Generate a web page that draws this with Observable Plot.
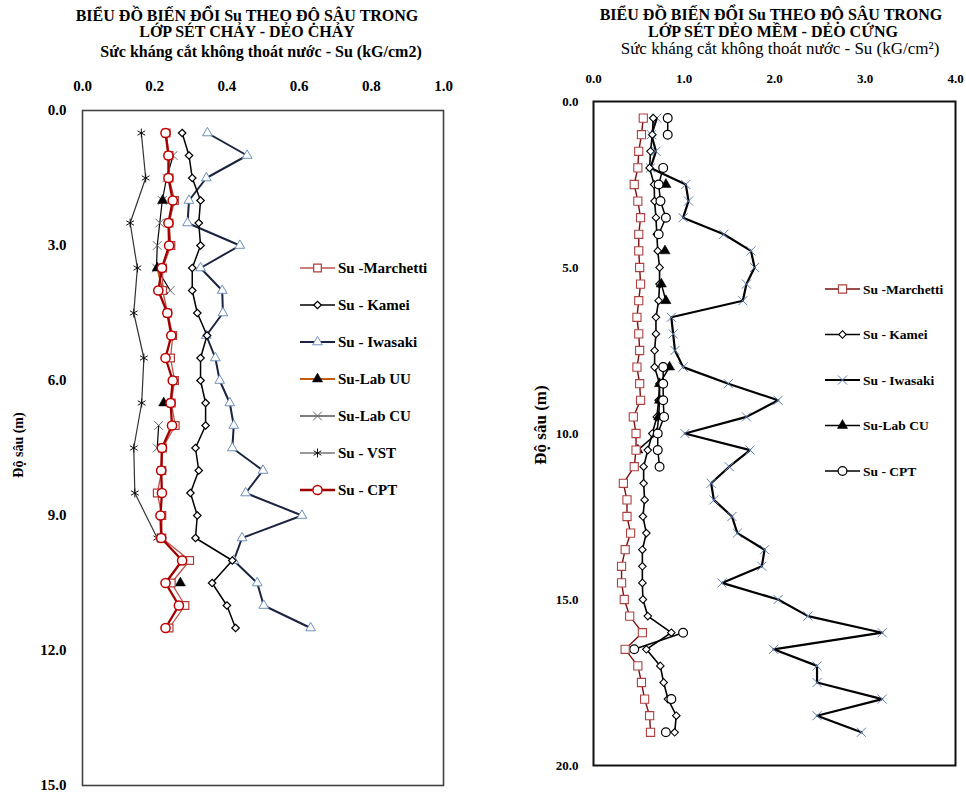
<!DOCTYPE html>
<html>
<head>
<meta charset="utf-8">
<script src="https://cdn.jsdelivr.net/npm/d3@7"></script>
<script src="https://cdn.jsdelivr.net/npm/@observablehq/plot@0.6"></script>
<style>
  body { margin: 0; background: #fff; }
  #wrap { position: relative; width: 966px; height: 792px; overflow: hidden; font-family: "Liberation Serif", "Times New Roman", serif; color: #000; }
  .t { position: absolute; white-space: nowrap; transform: translate(-50%, -50%); font-size: 16px; line-height: 1; }
  .b { font-weight: bold; }
  #left, #right { position: absolute; top: 0; }
  #left { left: 0; }
  #right { left: 480px; }
</style>
</head>
<body>
<div id="wrap">
  <div id="left"></div>
  <div id="right"></div>
  <div class="t b" style="left:247px; top:16px;">BIỂU ĐỒ BIẾN ĐỔI Su THEO ĐỘ SÂU TRONG</div>
  <div class="t b" style="left:247px; top:32px;">LỚP SÉT CHẢY - DẺO CHẢY</div>
  <div class="t b" style="left:261px; top:52px;">Sức kháng cắt không thoát nước - Su (kG/cm2)</div>
  <div class="t b" style="left:771px; top:15px;">BIỂU ĐỒ BIẾN ĐỔI Su THEO ĐỘ SÂU TRONG</div>
  <div class="t b" style="left:773px; top:31.5px;">LỚP SÉT DẺO MỀM - DẺO CỨNG</div>
  <div class="t" style="left:780px; top:48px; font-size:17px;">Sức kháng cắt không thoát nước - Su (kG/cm²)</div>
</div>
<script>
// ---------------- LEFT CHART DATA ----------------
const xTicksL = [0, 0.2, 0.4, 0.6, 0.8, 1.0];
const yTicksL = [0, 3, 6, 9, 12, 15];
const depthL = [0.5, 1.0, 1.5, 2.0, 2.5, 3.0, 3.5, 4.0, 4.5, 5.0, 5.5, 6.0, 6.5, 7.0, 7.5, 8.0, 8.5, 9.0, 9.5, 10.0, 10.5, 11.0, 11.5];
const marchettiL = [0.232, 0.240, 0.240, 0.255, 0.240, 0.245, 0.222, 0.222, 0.236, 0.250, 0.244, 0.255, 0.246, 0.257, 0.222, 0.220, 0.207, 0.220, 0.220, 0.297, 0.246, 0.284, 0.240];
const kameiL = [0.276, 0.295, 0.304, 0.327, 0.322, 0.327, 0.304, 0.304, 0.318, 0.345, 0.327, 0.327, 0.341, 0.341, 0.313, 0.322, 0.299, 0.318, 0.313, 0.415, 0.359, 0.400, 0.424];
const iwasakiL = [0.346, 0.456, 0.343, 0.295, 0.291, 0.436, 0.327, 0.387, 0.389, 0.343, 0.368, 0.380, 0.408, 0.419, 0.415, 0.500, 0.452, 0.608, 0.442, 0.419, 0.484, 0.502, 0.632];
const labUUL = [null, null, null, 0.222, null, null, 0.207, 0.222, null, null, null, null, 0.225, null, null, null, null, null, null, null, 0.271, null, null];
const labCUL = [null, 0.251, 0.233, 0.221, 0.214, 0.207, 0.205, 0.243, null, null, null, null, null, 0.211, 0.207, null, null, null, null, null, null, null, null];
const cptL = [0.230, 0.238, 0.238, 0.250, 0.238, 0.240, 0.220, 0.210, 0.235, 0.246, 0.230, 0.250, 0.244, 0.248, 0.220, 0.218, 0.220, 0.216, 0.218, 0.276, 0.230, 0.267, 0.230];
const depthVST = [0.5, 1.5, 2.5, 3.5, 4.5, 5.5, 6.5, 7.5, 8.5, 9.5];
const vstL = [0.163, 0.175, 0.132, 0.152, 0.142, 0.170, 0.164, 0.142, 0.145, 0.207];

// ---------------- RIGHT CHART DATA ----------------
const xTicksR = [0, 1, 2, 3, 4];
const yTicksR = [0, 5, 10, 15, 20];
const depthR = [0.5, 1.0, 1.5, 2.0, 2.5, 3.0, 3.5, 4.0, 4.5, 5.0, 5.5, 6.0, 6.5, 7.0, 7.5, 8.0, 8.5, 9.0, 9.5, 10.0, 10.5, 11.0, 11.5, 12.0, 12.5, 13.0, 13.5, 14.0, 14.5, 15.0, 15.5, 16.0, 16.5, 17.0, 17.5, 18.0, 18.5, 19.0];
const marchettiR = [0.55, 0.53, 0.50, 0.49, 0.45, 0.49, 0.52, 0.50, 0.50, 0.51, 0.52, 0.50, 0.48, 0.50, 0.51, 0.48, 0.51, 0.52, 0.44, 0.47, 0.47, 0.45, 0.33, 0.37, 0.37, 0.41, 0.35, 0.31, 0.31, 0.34, 0.40, 0.54, 0.35, 0.49, 0.53, 0.565, 0.62, 0.63];
const kameiR = [0.66, 0.65, 0.63, 0.62, 0.67, 0.675, 0.69, 0.70, 0.71, 0.73, 0.73, 0.72, 0.69, 0.69, 0.675, 0.675, 0.73, 0.72, 0.70, 0.65, 0.60, 0.554, 0.554, 0.565, 0.546, 0.584, 0.54, 0.54, 0.54, 0.546, 0.60, 0.86, 0.584, 0.738, 0.775, 0.823, 0.915, 0.897];
const iwasakiR = [0.70, 0.64, 0.69, 0.63, 1.02, 1.05, 0.99, 1.44, 1.74, 1.78, 1.69, 1.65, 0.86, 0.88, 0.90, 0.99, 1.49, 2.04, 1.69, 1.01, 1.73, 1.50, 1.30, 1.33, 1.53, 1.59, 1.89, 1.86, 1.42, 2.04, 2.37, 3.19, 1.99, 2.47, 2.47, 3.19, 2.47, 2.96];
const labCUR = [null, null, null, null, 0.80, null, null, null, 0.79, null, 0.75, 0.80, null, null, null, 0.84, 0.73, 0.73, 0.72, 0.70, 0.49, null, null, null, null, null, null, null, null, null, null, null, null, null, null, null, null, null];
const cptR = [0.82, 0.82, null, 0.77, 0.72, 0.74, 0.80, 0.72, null, null, null, null, null, null, null, 0.77, 0.77, 0.77, 0.78, 0.71, 0.71, 0.73, null, null, null, null, null, null, null, null, null, 0.99, 0.45, null, null, 0.86, null, 0.80];

const rows = (depths, values) => depths.map((d, i) => ({ d, v: values[i] }));
const fmt1 = d => d.toFixed(1);

function series(data, o) {
  return [
    Plot.line(data, { x: "v", y: "d", stroke: o.line, strokeWidth: o.lw }),
    Plot.dot(data.filter(r => r.v != null), { x: "v", y: "d", symbol: o.symbol, r: o.r, fill: o.fill, stroke: o.mstroke, strokeWidth: o.msw })
  ];
}

const symMap = { square: d3.symbolSquare, diamond2: d3.symbolDiamond2, triangle: d3.symbolTriangle, times: d3.symbolTimes, asterisk: d3.symbolAsterisk, circle: d3.symbolCircle };

function addLegend(svg, items, x0, y0, dy, fs) {
  const g = d3.select(svg).append("g");
  items.forEach((it, i) => {
    const y = y0 + i * dy;
    g.append("line").attr("x1", x0).attr("x2", x0 + 35).attr("y1", y).attr("y2", y)
      .attr("stroke", it.line).attr("stroke-width", it.lw);
    g.append("path").attr("d", d3.symbol(symMap[it.symbol], Math.PI * it.r * it.r)())
      .attr("transform", `translate(${x0 + 17.5},${y})`)
      .attr("fill", it.fill).attr("stroke", it.mstroke).attr("stroke-width", it.msw);
    g.append("text").attr("x", x0 + 38).attr("y", y).attr("dy", "0.35em")
      .attr("text-anchor", "start")
      .attr("font-size", fs).attr("font-weight", "bold").attr("fill", "#000").text(it.label);
  });
}
function addYLabel(svg, x, y, fs) {
  d3.select(svg).append("text").attr("transform", `translate(${x},${y}) rotate(-90)`)
    .attr("text-anchor", "middle").attr("dy", "0.35em").attr("font-size", fs).attr("font-weight", "bold")
    .attr("fill", "#000").text("Độ sâu (m)");
}

// ---- styles
const sL = {
  marchetti: { line: "#c0504d", lw: 1.3, symbol: "square", r: 4.3, fill: "white", mstroke: "#b33a3a", msw: 1.2 },
  kamei: { line: "#000", lw: 1.5, symbol: "diamond2", r: 3.4, fill: "white", mstroke: "#000", msw: 1.2 },
  iwasaki: { line: "#1a2440", lw: 2, symbol: "triangle", r: 3.6, fill: "white", mstroke: "#6f8fbf", msw: 1 },
  labUU: { line: "#c55a11", lw: 1.8, symbol: "triangle", r: 3.8, fill: "#000", mstroke: "#000", msw: 0.5 },
  labCU: { line: "#000", lw: 1.2, symbol: "times", r: 4, fill: "none", mstroke: "#666", msw: 1 },
  vst: { line: "#333", lw: 1.2, symbol: "asterisk", r: 4.2, fill: "none", mstroke: "#111", msw: 1 },
  cpt: { line: "#a00000", lw: 2.3, symbol: "circle", r: 4.6, fill: "white", mstroke: "#c00000", msw: 1.5 }
};

const left = Plot.plot({
  width: 480, height: 792,
  marginTop: 110, marginBottom: 7, marginLeft: 82, marginRight: 37,
  style: { fontFamily: "'Liberation Serif', 'Times New Roman', serif", fontSize: "15px", fontWeight: "bold", color: "#000", background: "transparent", overflow: "visible" },
  x: { domain: [0, 1] },
  y: { domain: [0, 15], reverse: true },
  marks: [
    Plot.axisX({ anchor: "top", ticks: xTicksL, tickFormat: fmt1, tickSize: 0, tickPadding: 20, label: null }),
    Plot.axisY({ anchor: "left", ticks: yTicksL, tickFormat: fmt1, tickSize: 0, tickPadding: 16, label: null }),
    Plot.frame({ stroke: "#444", strokeWidth: 1.6 }),
    ...series(rows(depthVST, vstL), sL.vst),
    ...series(rows(depthL, labCUL), sL.labCU),
    ...series(rows(depthL, iwasakiL), sL.iwasaki),
    ...series(rows(depthL, kameiL), sL.kamei),
    ...series(rows(depthL, labUUL), sL.labUU),
    ...series(rows(depthL, marchettiL), sL.marchetti),
    ...series(rows(depthL, cptL), sL.cpt)
  ]
});
document.getElementById("left").appendChild(left);
addLegend(left, [
  { label: "Su -Marchetti", ...sL.marchetti },
  { label: "Su - Kamei", ...sL.kamei },
  { label: "Su - Iwasaki", ...sL.iwasaki },
  { label: "Su-Lab UU", ...sL.labUU },
  { label: "Su-Lab CU", ...sL.labCU },
  { label: "Su - VST", ...sL.vst },
  { label: "Su - CPT", ...sL.cpt }
], 300, 268, 37, 15);
addYLabel(left, 18, 445, 14);

const sR = {
  marchetti: { line: "#7a1010", lw: 1.4, symbol: "square", r: 4.6, fill: "white", mstroke: "#b04040", msw: 1.1 },
  kamei: { line: "#000", lw: 1.6, symbol: "diamond2", r: 3.4, fill: "white", mstroke: "#000", msw: 1.1 },
  iwasaki: { line: "#000", lw: 2.2, symbol: "times", r: 4.2, fill: "none", mstroke: "#5b7fb5", msw: 1 },
  labCU: { line: "#000", lw: 1.5, symbol: "triangle", r: 3.8, fill: "#000", mstroke: "#000", msw: 0.5 },
  cpt: { line: "#000", lw: 1.5, symbol: "circle", r: 4.4, fill: "white", mstroke: "#000", msw: 1.2 }
};

const right = Plot.plot({
  width: 486, height: 792,
  marginTop: 101, marginBottom: 27, marginLeft: 113, marginRight: 11,
  style: { fontFamily: "'Liberation Serif', 'Times New Roman', serif", fontSize: "13px", fontWeight: "bold", color: "#000", background: "transparent", overflow: "visible" },
  x: { domain: [0, 4] },
  y: { domain: [0, 20], reverse: true },
  marks: [
    Plot.axisX({ anchor: "top", ticks: xTicksR, tickFormat: fmt1, tickSize: 0, tickPadding: 19, label: null }),
    Plot.axisY({ anchor: "left", ticks: yTicksR, tickFormat: fmt1, tickSize: 0, tickPadding: 15, label: null }),
    Plot.frame({ stroke: "#111", strokeWidth: 2 }),
    ...series(rows(depthR, iwasakiR), sR.iwasaki),
    ...series(rows(depthR, kameiR), sR.kamei),
    ...series(rows(depthR, labCUR), sR.labCU),
    ...series(rows(depthR, cptR), sR.cpt),
    ...series(rows(depthR, marchettiR), sR.marchetti)
  ]
});
document.getElementById("right").appendChild(right);
addLegend(right, [
  { label: "Su -Marchetti", ...sR.marchetti },
  { label: "Su - Kamei", ...sR.kamei },
  { label: "Su - Iwasaki", ...sR.iwasaki },
  { label: "Su-Lab CU", ...sR.labCU },
  { label: "Su - CPT", ...sR.cpt }
], 345, 289, 45.5, 13.5);
addYLabel(right, 60, 425, 17);
</script>
</body>
</html>
